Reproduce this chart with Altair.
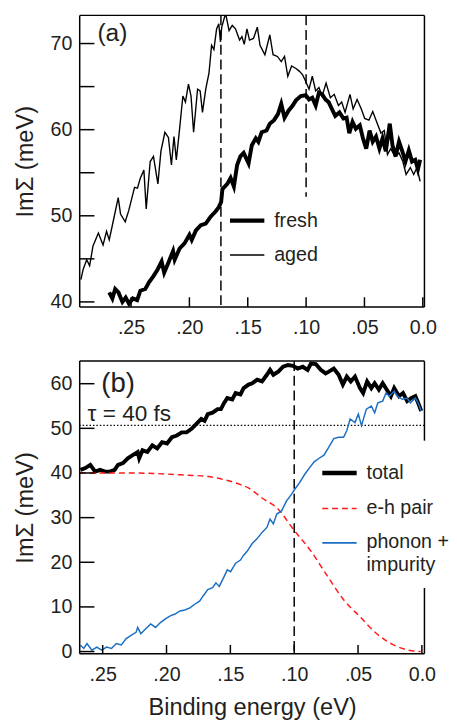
import altair as alt
import pandas as pd

# ---------------- data ----------------
# panel (a): fresh (thick) and aged (thin)
aged_e = [0.293, 0.291, 0.288, 0.2855, 0.2826, 0.278, 0.274, 0.271, 0.2687, 0.266, 0.261, 0.259, 0.255, 0.252,
          0.247, 0.2445, 0.242, 0.239, 0.237, 0.2336, 0.2308, 0.227, 0.2244, 0.221, 0.218, 0.2154, 0.2132, 0.2112,
          0.2084, 0.2056, 0.2034, 0.2008, 0.1986, 0.1964, 0.193, 0.1908, 0.1888, 0.186, 0.1832, 0.181, 0.179,
          0.1767, 0.1748, 0.1734, 0.1723, 0.169, 0.166, 0.1633, 0.1605, 0.157, 0.155, 0.153, 0.1507, 0.1485,
          0.1451, 0.1418, 0.1395, 0.1353, 0.1311, 0.1283, 0.1246, 0.1213, 0.1185, 0.1157, 0.1124, 0.1087, 0.1059,
          0.1031, 0.1003, 0.0975, 0.0947, 0.0918, 0.089, 0.0863, 0.0829, 0.0792, 0.0759, 0.0723, 0.0695, 0.0666,
          0.0624, 0.0597, 0.0563, 0.0527, 0.0498, 0.0462, 0.0429, 0.0395, 0.0359, 0.033, 0.0303, 0.0275, 0.0238,
          0.0204, 0.0171, 0.0143, 0.0107, 0.0078, 0.005, 0.0023]
aged_v = [42.6, 43.8, 44.9, 44.2, 46.5, 48.0, 46.6, 48.2, 47.2, 48.9, 52.1, 50.2, 49.3, 50.6,
          53.3, 53.2, 54.4, 55.3, 50.8, 56.3, 56.9, 53.7, 57.5, 59.7, 59.1, 55.9, 59.2, 56.5,
          60.1, 63.9, 63.2, 65.3, 63.9, 59.7, 64.7, 64.5, 62.0, 64.7, 66.6, 69.8, 69.3,
          71.7, 72.3, 70.2, 71.9, 73.5, 71.5, 72.1, 71.7, 70.4, 70.8, 69.9, 71.7, 70.4,
          70.6, 71.9, 69.8, 68.7, 71.0, 68.7, 68.5, 67.9, 68.5, 66.2, 67.4, 67.1, 66.8,
          66.4, 65.6, 64.7, 66.2, 64.5, 64.9, 63.9, 65.4, 63.7, 64.1, 62.8, 63.2, 62.0,
          64.1, 62.4, 63.5, 62.4, 61.3, 61.1, 62.1, 60.9, 59.6, 59.9, 57.1, 57.8, 56.9,
          57.3, 56.3, 54.8, 55.6, 54.8, 55.6, 54.0]

fresh_e = [0.2687, 0.266, 0.2636, 0.2608, 0.2574, 0.2546, 0.2518, 0.2485, 0.2448, 0.242, 0.2378, 0.2345, 0.2308,
           0.2271, 0.2238, 0.2216, 0.2182, 0.214, 0.2126, 0.2084, 0.2042, 0.2, 0.198, 0.1944, 0.1902, 0.186,
           0.1818, 0.1776, 0.1748, 0.1728, 0.1717, 0.1675, 0.1647, 0.1619, 0.1591, 0.1563, 0.1535, 0.1493,
           0.1465, 0.1431, 0.1409, 0.1381, 0.1339, 0.1311, 0.1275, 0.1241, 0.1213, 0.1185, 0.1151, 0.1115,
           0.1087, 0.1045, 0.1003, 0.0975, 0.0947, 0.0918, 0.089, 0.0863, 0.0834, 0.0807, 0.0779, 0.075,
           0.0714, 0.068, 0.0653, 0.063, 0.0602, 0.0574, 0.054, 0.0513, 0.0485, 0.0456, 0.0429, 0.0401,
           0.0372, 0.0345, 0.0317, 0.0283, 0.026, 0.0233, 0.0204, 0.0176, 0.0149, 0.012, 0.0092, 0.0065,
           0.0042, 0.0023]
fresh_v = [41.1, 40.4, 41.5, 41.1, 40.0, 40.5, 39.8, 40.4, 40.2, 41.3, 41.5, 42.3, 43.0,
           43.8, 44.7, 43.4, 44.5, 45.9, 44.9, 46.2, 46.8, 47.8, 47.2, 48.3, 48.9, 49.1,
           49.9, 50.5, 51.0, 51.6, 53.1, 53.7, 54.4, 53.4, 55.9, 56.9, 57.3, 56.1,
           58.2, 59.0, 58.6, 59.7, 59.9, 60.7, 61.1, 61.8, 63.0, 61.4, 62.2, 62.8,
           63.4, 63.9, 64.0, 63.5, 63.7, 62.8, 64.3, 64.1, 63.5, 63.2, 62.4, 61.6,
           62.0, 61.3, 61.4, 59.6, 60.9, 60.1, 60.5, 59.0, 57.8, 59.9, 58.6, 59.2,
           57.8, 59.0, 57.5, 60.7, 58.2, 56.9, 58.6, 57.5, 56.3, 57.6, 56.3, 56.5,
           55.4, 56.5]

# panel (b): total, e-h pair, phonon + impurity
total_e = [0.2674, 0.2636, 0.2597, 0.2559, 0.252, 0.2482, 0.2444, 0.2406, 0.238, 0.2341, 0.2303, 0.2265, 0.2226,
           0.2214, 0.2188, 0.215, 0.2111, 0.2073, 0.2035, 0.1996, 0.1958, 0.1919, 0.1881, 0.1843, 0.1804, 0.1766,
           0.1728, 0.1702, 0.1677, 0.1639, 0.16, 0.1574, 0.1549, 0.1524, 0.1485, 0.1459, 0.1421, 0.1396, 0.1357,
           0.1329, 0.129, 0.1252, 0.1214, 0.1189, 0.1163, 0.1125, 0.1087, 0.1048, 0.101, 0.0972, 0.0933, 0.0895,
           0.0869, 0.0831, 0.0792, 0.0754, 0.0729, 0.069, 0.0652, 0.0619, 0.0588, 0.0557, 0.0524, 0.0485, 0.046,
           0.0429, 0.0396, 0.037, 0.0337, 0.0307, 0.0276, 0.0243, 0.0217, 0.0179, 0.0148, 0.0115, 0.0082, 0.0051,
           0.0025, 0.0005]
total_v = [40.7, 41.1, 41.8, 40.3, 40.7, 40.3, 40.3, 40.7, 41.8, 42.2, 43.3, 44.0, 44.7,
           43.3, 45.1, 44.7, 46.2, 45.5, 46.9, 46.6, 48.0, 48.4, 49.1, 49.1, 49.9, 51.0,
           52.1, 51.7, 53.2, 53.5, 54.3, 54.3, 55.7, 56.8, 56.5, 57.9, 57.6, 59.0, 59.8,
           60.1, 60.9, 60.5, 62.0, 63.1, 62.0, 62.7, 63.8, 64.2, 64.0, 63.4, 63.8, 63.1,
           64.5, 64.4, 63.1, 62.3, 62.7, 63.4, 62.0, 59.8, 61.6, 60.5, 61.6, 59.0, 57.9,
           60.5, 59.0, 60.1, 58.7, 60.1, 58.7, 57.2, 59.0, 57.2, 57.9, 56.1, 56.8, 57.2,
           55.4, 53.9]

eh_e = [0.268, 0.25, 0.23, 0.21, 0.19, 0.1677, 0.155, 0.142, 0.1355, 0.1252, 0.1125, 0.101, 0.0869, 0.0742,
        0.0613, 0.0485, 0.0358, 0.023, 0.0102, 0.001]
eh_v = [40.0, 40.0, 40.0, 39.9, 39.6, 39.2, 38.5, 37.4, 36.6, 34.4, 31.9, 27.5, 22.5, 17.0,
        11.6, 7.8, 4.1, 1.6, 0.3, 0.0]

ph_e = [0.2674, 0.2648, 0.2623, 0.2584, 0.2546, 0.2508, 0.2469, 0.2431, 0.2393, 0.2354, 0.2316, 0.2278, 0.2239,
        0.2226, 0.2201, 0.2163, 0.2124, 0.2086, 0.2048, 0.2009, 0.1971, 0.1933, 0.1894, 0.1856, 0.1817, 0.1779,
        0.1741, 0.1715, 0.1677, 0.1639, 0.1613, 0.1587, 0.1549, 0.1524, 0.1498, 0.1459, 0.1421, 0.1396, 0.137,
        0.1329, 0.129, 0.1252, 0.1214, 0.1189, 0.1163, 0.1137, 0.1099, 0.1061, 0.1022, 0.0997, 0.0959, 0.092,
        0.0882, 0.0844, 0.0805, 0.0767, 0.0729, 0.069, 0.0652, 0.0613, 0.0588, 0.0562, 0.0524, 0.0498, 0.0473,
        0.0435, 0.0396, 0.037, 0.0345, 0.0307, 0.0281, 0.0255, 0.0217, 0.0192, 0.0153, 0.0115, 0.009, 0.0051,
        0.0025, 0.0005]
ph_v = [1.4, 0.7, 1.8, 0.3, 1.0, 0.3, 1.0, 0.7, 1.8, 1.5, 2.9, 3.6, 4.3,
        5.4, 4.0, 5.1, 6.2, 5.4, 6.5, 7.3, 8.0, 8.4, 9.1, 9.3, 9.8, 10.6,
        11.3, 12.4, 13.9, 14.3, 15.4, 14.6, 16.8, 18.3, 17.9, 19.8, 20.5, 21.6, 22.4,
        24.2, 25.3, 26.7, 27.8, 29.7, 28.6, 30.8, 31.5, 33.7, 35.2, 36.3, 37.8, 39.6,
        41.1, 42.5, 43.3, 44.0, 45.8, 47.7, 48.0, 48.0, 49.5, 52.1, 51.3, 53.2, 50.6,
        54.3, 55.0, 53.5, 55.7, 56.1, 57.9, 57.2, 58.3, 57.2, 56.5, 56.8, 55.7, 56.8,
        55.4, 53.9]

x_tick_values = [0.25, 0.20, 0.15, 0.10, 0.05, 0.0]
ya_tick_values = [40, 45, 50, 55, 60, 65, 70]
ya_label_values = [40, 50, 60, 70]
yb_tick_values = [0, 10, 20, 30, 40, 50, 60]

dash_a = [0.173, 0.10]          # dashed markers in (a)
dash_a_short_bottom = 52.2      # lower end of the 0.10 marker in (a)
dash_b = [0.10]
tau_level = 50.66

# ---------------- styling ----------------
FONT = "Liberation Sans"
TXT = "#231f20"
W = 351
HA = 297
HB = 298
FRAME_W = 1.5
RED = "#ff1a1a"
BLUE = "#1a6fc4"

xa_scale = alt.Scale(domain=[-0.0014, 0.294], reverse=True, nice=False, zero=False)
ya_scale = alt.Scale(domain=[39.4, 73.27], nice=False, zero=False)
xb_scale = alt.Scale(domain=[-0.002, 0.268], reverse=True, nice=False, zero=False)
yb_scale = alt.Scale(domain=[-0.5, 65.06], nice=False, zero=False)

LABEL_EXPR = "datum.value < 0.001 ? '0.0' : replace(format(datum.value, '.2f'), '0.', '.')"


def x_axis(title=None):
    kw = dict(values=x_tick_values, labelExpr=LABEL_EXPR, ticks=False, domain=False,
              grid=False, labelPadding=11, labelFontSize=20, labelFont=FONT, labelColor=TXT,
              labelFlush=False, labelOverlap=False)
    if title:
        kw.update(title=title, titleFontSize=24, titleFont=FONT, titleColor=TXT, titleFontWeight="normal",
                  titlePadding=12)
    else:
        kw.update(title="")
    return alt.Axis(**kw)


def y_axis(values):
    return alt.Axis(values=values, ticks=False, domain=False, grid=False,
                    labelPadding=8, labelFontSize=20, labelFont=FONT, labelColor=TXT,
                    labelFlush=False, labelOverlap=False,
                    title="ImΣ (meV)", titleFontSize=24, titleFont=FONT, titleColor=TXT,
                    titleFontWeight="normal", titlePadding=13)


one = pd.DataFrame({"d": [0]})


def frame(h, right_segments):
    layers = [
        alt.Chart(one).mark_rule(color="black", strokeWidth=FRAME_W).encode(
            x=alt.value(0), y=alt.value(0), y2=alt.value(h)),
        alt.Chart(one).mark_rule(color="black", strokeWidth=FRAME_W).encode(
            x=alt.value(0), x2=alt.value(W), y=alt.value(h)),
        alt.Chart(one).mark_rule(color="black", strokeWidth=FRAME_W).encode(
            x=alt.value(0), x2=alt.value(W), y=alt.value(0)),
    ]
    for (a, b) in right_segments:
        layers.append(alt.Chart(one).mark_rule(color="black", strokeWidth=FRAME_W).encode(
            x=alt.value(W), y=alt.value(a), y2=alt.value(b)))
    return layers


def text_layer(txt, x, y, size, align="left"):
    return alt.Chart(one).mark_text(font=FONT, fontSize=size, color=TXT, align=align,
                                    baseline="middle").encode(
        x=alt.value(x), y=alt.value(y), text=alt.value(txt))


# ---------------- panel (a) ----------------
df_aged = pd.DataFrame({"e": aged_e, "v": aged_v})
df_fresh = pd.DataFrame({"e": fresh_e, "v": fresh_v})

a_aged = alt.Chart(df_aged).mark_line(color="black", strokeWidth=1.4, clip=True).encode(
    x=alt.X("e:Q", scale=xa_scale, axis=x_axis()),
    y=alt.Y("v:Q", scale=ya_scale, axis=y_axis(ya_label_values)),
)
a_fresh = alt.Chart(df_fresh).mark_line(color="black", strokeWidth=4, clip=True).encode(
    x=alt.X("e:Q", scale=xa_scale),
    y=alt.Y("v:Q", scale=ya_scale),
)
a_dash_full = alt.Chart(pd.DataFrame({"e": [dash_a[0]]})).mark_rule(
    color="black", strokeWidth=1.5, strokeDash=[10, 5]).encode(
    x=alt.X("e:Q", scale=xa_scale))
a_dash_short = alt.Chart(pd.DataFrame({"e": [dash_a[1]], "top": [ya_scale.domain[1]],
                                       "bot": [dash_a_short_bottom]})).mark_rule(
    color="black", strokeWidth=1.5, strokeDash=[10, 5]).encode(
    x=alt.X("e:Q", scale=xa_scale),
    y=alt.Y("top:Q", scale=ya_scale), y2="bot:Q")
a_yticks = alt.Chart(pd.DataFrame({"v": ya_tick_values})).mark_rule(color="black", strokeWidth=1.5).encode(
    y=alt.Y("v:Q", scale=ya_scale), x=alt.value(0), x2=alt.value(15))
a_xticks = alt.Chart(pd.DataFrame({"e": x_tick_values})).mark_rule(color="black", strokeWidth=1.5).encode(
    x=alt.X("e:Q", scale=xa_scale), y=alt.value(HA - 10), y2=alt.value(HA))

a_leg = [
    alt.Chart(one).mark_rule(color="black", strokeWidth=4.5).encode(
        x=alt.value(153), x2=alt.value(188), y=alt.value(209)),
    alt.Chart(one).mark_rule(color="black", strokeWidth=1.4).encode(
        x=alt.value(153), x2=alt.value(188), y=alt.value(244)),
    text_layer("fresh", 198, 209, 20),
    text_layer("aged", 198, 244, 20),
    text_layer("(a)", 18, 18, 25),
]

panel_a = alt.layer(a_aged, a_fresh, a_dash_full, a_dash_short, a_yticks, a_xticks,
                    *frame(HA, [(0, HA)]), *a_leg).properties(width=W, height=HA)

# ---------------- panel (b) ----------------
df_total = pd.DataFrame({"e": total_e, "v": total_v})
df_eh = pd.DataFrame({"e": eh_e, "v": eh_v})
df_ph = pd.DataFrame({"e": ph_e, "v": ph_v})

b_total = alt.Chart(df_total).mark_line(color="black", strokeWidth=4, clip=True).encode(
    x=alt.X("e:Q", scale=xb_scale, axis=x_axis("Binding energy (eV)")),
    y=alt.Y("v:Q", scale=yb_scale, axis=y_axis(yb_tick_values)))
b_dot = alt.Chart(pd.DataFrame({"v": [tau_level]})).mark_rule(
    color="black", strokeWidth=1.3, strokeDash=[1.5, 2]).encode(
    y=alt.Y("v:Q", scale=yb_scale))
b_dash = alt.Chart(pd.DataFrame({"e": dash_b})).mark_rule(
    color="black", strokeWidth=1.5, strokeDash=[10, 5]).encode(
    x=alt.X("e:Q", scale=xb_scale))
b_eh = alt.Chart(df_eh).mark_line(color=RED, strokeWidth=1.5, strokeDash=[6, 4], interpolate="monotone",
                                  clip=True).encode(
    x=alt.X("e:Q", scale=xb_scale),
    y=alt.Y("v:Q", scale=yb_scale))
b_ph = alt.Chart(df_ph).mark_line(color=BLUE, strokeWidth=1.5, clip=True).encode(
    x=alt.X("e:Q", scale=xb_scale),
    y=alt.Y("v:Q", scale=yb_scale))
b_yticks = alt.Chart(pd.DataFrame({"v": yb_tick_values})).mark_rule(color="black", strokeWidth=1.5).encode(
    y=alt.Y("v:Q", scale=yb_scale), x=alt.value(0), x2=alt.value(15))
b_xticks = alt.Chart(pd.DataFrame({"e": x_tick_values})).mark_rule(color="black", strokeWidth=1.5).encode(
    x=alt.X("e:Q", scale=xb_scale), y=alt.value(HB - 9), y2=alt.value(HB))

b_leg = [
    alt.Chart(one).mark_rule(color="black", strokeWidth=4.5).encode(
        x=alt.value(247), x2=alt.value(282), y=alt.value(114)),
    alt.Chart(one).mark_rule(color=RED, strokeWidth=1.5, strokeDash=[6, 4]).encode(
        x=alt.value(247), x2=alt.value(282), y=alt.value(150)),
    alt.Chart(one).mark_rule(color=BLUE, strokeWidth=1.8).encode(
        x=alt.value(247), x2=alt.value(282), y=alt.value(185)),
    text_layer("total", 292, 114, 20),
    text_layer("e-h pair", 292, 150, 20),
    text_layer("phonon +", 292, 184, 20),
    text_layer("impurity", 292, 208, 20),
    text_layer("(b)", 22, 23, 28),
    text_layer("τ = 40 fs", 8, 54, 23),
]

panel_b = alt.layer(b_total, b_dot, b_dash, b_eh, b_ph, b_yticks, b_xticks,
                    *frame(HB, [(0, 81), (231, HB)]), *b_leg).properties(width=W, height=HB)

chart = alt.vconcat(panel_a, panel_b, spacing=23).properties(
    padding={"left": 5, "top": 0, "right": 0, "bottom": 0},
    background="white",
).configure_view(strokeWidth=0)

chart.save("out.html", embed_options={"renderer": "svg", "actions": False})
